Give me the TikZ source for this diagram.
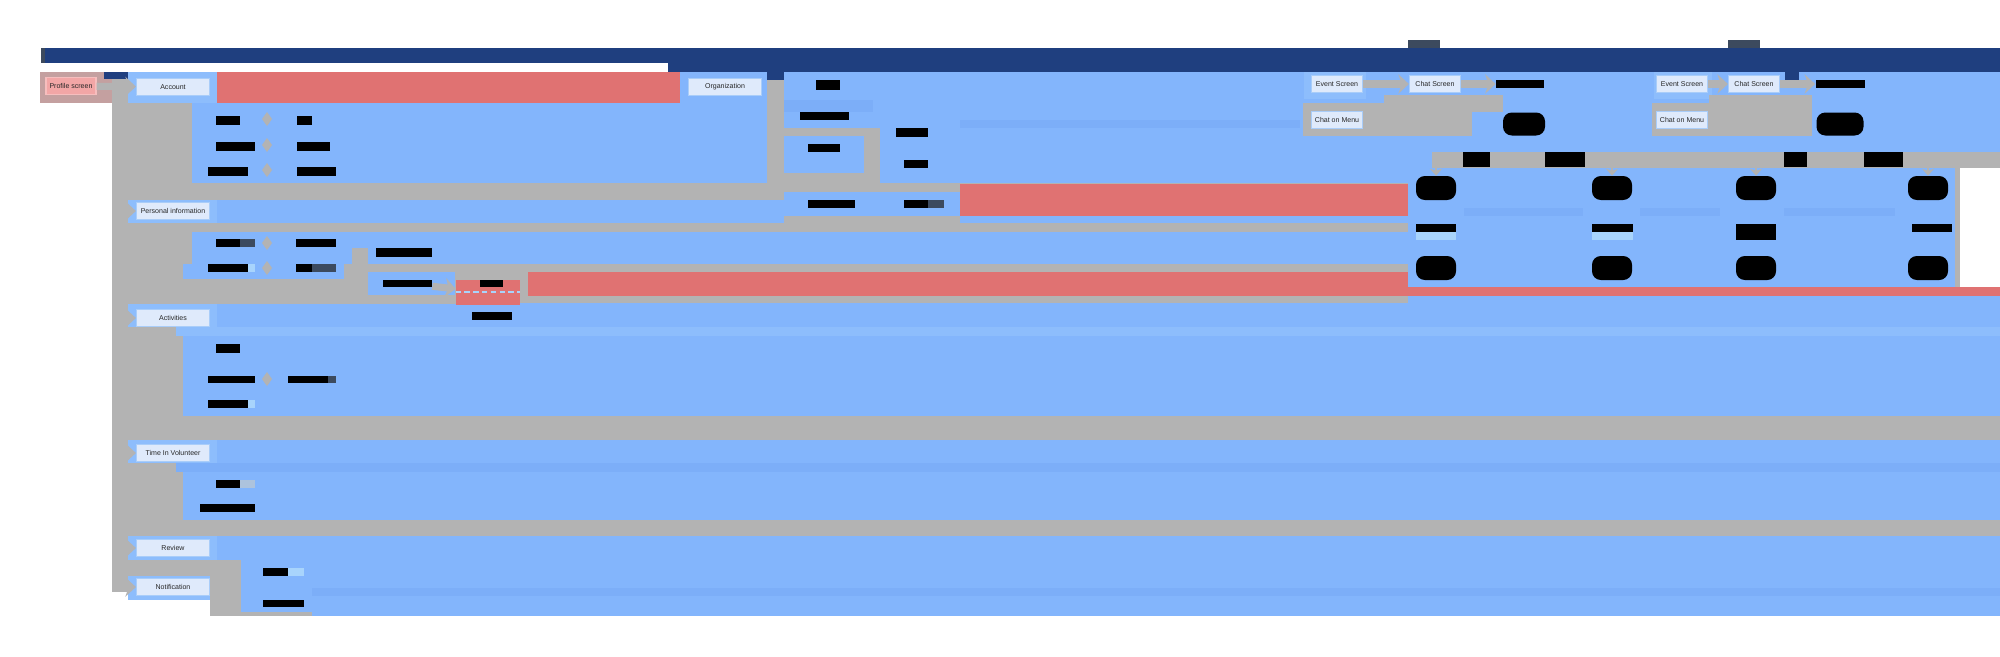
\documentclass[tikz,border=0pt]{standalone}
\usepackage{fontspec}
\setmainfont{Liberation Sans}
\usetikzlibrary{positioning,arrows.meta}

\definecolor{navy}{RGB}{31,63,127}
\definecolor{sky}{RGB}{131,181,252}
\definecolor{skydark}{RGB}{124,174,248}
\definecolor{skylight}{RGB}{141,189,252}
\definecolor{pale}{RGB}{168,212,252}
\definecolor{stone}{RGB}{179,179,179}
\definecolor{rose}{RGB}{224,114,114}
\definecolor{rosegray}{RGB}{196,160,160}
\definecolor{slate}{RGB}{60,74,94}
\definecolor{boxfill}{RGB}{223,234,251}
\definecolor{boxedge}{RGB}{169,205,249}
\definecolor{pinkfill}{RGB}{242,166,166}
\definecolor{pinkedge}{RGB}{246,190,190}

\tikzset{
  screen/.style={draw=boxedge, fill=boxfill, line width=0.7pt,
    minimum width=1.46cm, minimum height=0.34cm, inner sep=0pt,
    text=black!85, font=\fontsize{4}{4.5}\selectfont},
  start/.style={screen, draw=pinkedge, fill=pinkfill, minimum width=1.0cm},
  hidden/.style={fill=black, inner sep=0pt, minimum height=0.16cm},
  conn/.style={draw=stone, line width=4pt, -{Stealth[length=6pt,width=11pt]}},
  drop/.style={draw=stone, line width=1.5pt, -{Stealth[length=4pt,width=7pt]}},
}

\begin{document}
\begin{tikzpicture}[x=0.02cm, y=-0.02cm]
\useasboundingbox (0,0) rectangle (2000,656);

% header band
\fill[navy] (41,48) rectangle (2000,63);
\fill[navy] (668,63) rectangle (2000,72);
\fill[slate] (41,48) rectangle (45,63);
\fill[slate] (1408,40) rectangle (1440,48);
\fill[slate] (1728,40) rectangle (1760,48);

% base layers
\fill[stone] (112,72) rectangle (2000,616);
\fill[rosegray] (40,72) rectangle (112,103);
\fill[navy] (104,72) rectangle (128,79);

% account row
\fill[skylight] (128,72) rectangle (217,103);
\fill[rose] (217,72) rectangle (689,103);
\fill[sky] (680,72) rectangle (767,103);
\fill[sky] (192,103) rectangle (767,183);
\fill[sky] (784,72) rectangle (2000,183);
\fill[navy] (767,72) rectangle (784,80);
\fill[navy] (1785,72) rectangle (1799,80);
\fill[skydark] (784,100) rectangle (873,112);
\fill[skydark] (960,120) rectangle (1300,128);

% organization branch
\fill[stone] (784,128) rectangle (873,136);
\fill[stone] (784,173) rectangle (880,183);
\fill[stone] (864,128) rectangle (880,183);
\fill[sky] (784,192) rectangle (960,216);

% personal information row
\fill[sky] (128,200) rectangle (784,223);
\fill[skylight] (128,200) rectangle (217,223);
\fill[sky] (960,192) rectangle (1408,223);
\fill[rose] (960,184) rectangle (1408,216);
\fill[sky] (192,232) rectangle (2000,264);
\fill[sky] (183,264) rectangle (344,279);
\fill[stone] (352,248) rectangle (368,295);
\fill[sky] (368,272) rectangle (455,295);
\fill[rose] (528,272) rectangle (1408,296);
\fill[sky] (1408,272) rectangle (2000,287);
\fill[rose] (1408,287) rectangle (2000,296);
\fill[sky] (1408,296) rectangle (2000,304);

% activities
\fill[sky] (128,304) rectangle (456,327);
\fill[sky] (520,303) rectangle (2000,327);
\fill[sky] (456,305) rectangle (520,327);
\fill[skylight] (128,304) rectangle (217,327);
\fill[skylight] (176,327) rectangle (2000,336);
\fill[sky] (183,336) rectangle (2000,416);

% time in volunteer
\fill[sky] (128,440) rectangle (2000,463);
\fill[skylight] (128,440) rectangle (217,463);
\fill[skydark] (176,463) rectangle (2000,472);
\fill[sky] (183,472) rectangle (2000,520);

% review and notification
\fill[sky] (128,536) rectangle (2000,560);
\fill[skylight] (128,536) rectangle (217,560);
\fill[sky] (241,560) rectangle (2000,616);
\fill[stone] (240,612) rectangle (312,616);
\fill[skylight] (128,576) rectangle (210,600);
\fill[white] (112,592) rectangle (128,616);
\fill[white] (128,600) rectangle (210,616);
\fill[skydark] (312,588) rectangle (2000,596);

% chat groups
\fill[skylight] (1304,72) rectangle (1366,99);
\fill[stone] (1303,103) rectangle (1472,136);
\fill[stone] (1384,95) rectangle (1503,112);
\fill[skylight] (1654,72) rectangle (1712,99);
\fill[stone] (1652,103) rectangle (1812,136);
\fill[stone] (1709,95) rectangle (1812,112);
\fill[stone] (1432,152) rectangle (2000,168);
\fill[black!55] (1784,168) rectangle (1895,176);
\fill[boxedge!80!stone] (1464,168) rectangle (1584,176);

% message table
\fill[sky] (1408,168) rectangle (1955,287);
\fill[stone] (1955,168) rectangle (1960,287);
\fill[white] (1960,168) rectangle (2000,287);
\fill[skydark] (1464,208) rectangle (1583,216);
\fill[skydark] (1640,208) rectangle (1720,216);
\fill[skydark] (1784,208) rectangle (1895,216);

% screens
\node[start] (profile) at (71,86) {Profile screen};
\node[screen] (account) at (173,87) {Account};
\node[screen] (org) at (725,87) {Organization};
\node[screen] (personal) at (173,211) {Personal information};
\node[screen] (activities) at (173,318) {Activities};
\node[screen] (volunteer) at (173,453) {Time In Volunteer};
\node[screen] (review) at (173,548) {Review};
\node[screen] (notify) at (173,587) {Notification};

\node[screen, minimum width=1.02cm] (event) at (1337,84) {Event Screen};
\node[screen, minimum width=1.02cm] (chat) at (1435,84) {Chat Screen};
\node[screen, minimum width=1.02cm] (menu) at (1337,120) {Chat on Menu};
\node[screen, minimum width=1.02cm] (event2) at (1682,84) {Event Screen};
\node[screen, minimum width=1.02cm] (chat2) at (1754,84) {Chat Screen};
\node[screen, minimum width=1.02cm] (menu2) at (1682,120) {Chat on Menu};

\node[hidden, minimum width=0.96cm] (msg) at (1520,84) {};
\node[hidden, minimum width=0.98cm] (msg2) at (1840,84) {};
\node[hidden, minimum width=0.84cm, minimum height=0.46cm, rounded corners=5pt] (blob) at (1524,124) {};
\node[hidden, minimum width=0.94cm, minimum height=0.46cm, rounded corners=5pt] (blob2) at (1840,124) {};

% table cells
\foreach \cx/\nm in {1436/ca, 1612/cb, 1756/cc, 1928/cd} {
  \node[hidden, minimum width=0.8cm, minimum height=0.48cm, rounded corners=5pt] (\nm) at (\cx,188) {};
  \fill[black, rounded corners=5pt] (\cx-20,256) rectangle (\cx+20,280);
}
\fill[black] (1416,224) rectangle (1456,232); \fill[pale] (1416,232) rectangle (1456,240);
\fill[black] (1592,224) rectangle (1633,232); \fill[pale] (1592,232) rectangle (1633,240);
\fill[black] (1736,224) rectangle (1776,240);
\fill[black] (1912,224) rectangle (1952,232);
\foreach \cx/\nm in {1436/ca, 1612/cb, 1756/cc, 1928/cd}
  \draw[drop] (\cx,160) -- (\nm);

% band labels
\fill[black] (1463,152) rectangle (1490,167);
\fill[black] (1545,152) rectangle (1585,167);
\fill[black] (1784,152) rectangle (1807,167);
\fill[black] (1864,152) rectangle (1903,167);

% account items
\foreach \yy/\xa/\xb/\xc/\xd in {112/216/240/297/312, 138/216/255/297/330, 163/208/248/297/336} {
  \fill[black] (\xa,\yy+4) rectangle (\xb,\yy+13);
  \fill[black] (\xc,\yy+4) rectangle (\xd,\yy+13);
  \fill[stone] (267,\yy) -- (272,\yy+7) -- (267,\yy+14) -- (262,\yy+7) -- cycle;
}

% organization items
\fill[black] (816,80) rectangle (840,90);
\fill[black] (800,112) rectangle (849,120);
\fill[black] (808,144) rectangle (840,152);
\fill[black] (896,128) rectangle (928,137);
\fill[black] (904,160) rectangle (928,168);
\fill[black] (808,200) rectangle (855,208);
\fill[black] (904,200) rectangle (928,208);
\fill[slate] (928,200) rectangle (944,208);

% personal information items
\fill[black] (216,239) rectangle (240,247); \fill[slate] (240,239) rectangle (255,247);
\fill[black] (296,239) rectangle (336,247);
\fill[black] (208,264) rectangle (248,272); \fill[pale] (248,264) rectangle (255,272);
\fill[black] (296,264) rectangle (312,272); \fill[slate] (312,264) rectangle (336,272);
\fill[stone] (267,236) -- (272,243) -- (267,250) -- (262,243) -- cycle;
\fill[stone] (267,261) -- (272,268) -- (267,275) -- (262,268) -- cycle;
\fill[black] (376,248) rectangle (432,257);
\node[hidden, minimum width=0.98cm, minimum height=0.14cm] (pitem) at (407.5,283.5) {};
\node[fill=rose, inner sep=0pt, minimum width=1.28cm, minimum height=0.5cm] (pedit) at (488,292.5) {};
\draw[pale, densely dashed, line width=0.6pt] (pedit.west |- 0,292) -- (pedit.east |- 0,292);
\fill[black] (480,280) rectangle (503,287);
\fill[black] (472,312) rectangle (512,320);

% activities items
\fill[black] (216,344) rectangle (240,353);
\fill[black] (208,376) rectangle (255,383);
\fill[black] (288,376) rectangle (328,383); \fill[slate] (328,376) rectangle (336,383);
\fill[stone] (267,372) -- (272,379) -- (267,386) -- (262,379) -- cycle;
\fill[black] (208,400) rectangle (248,408); \fill[pale] (248,400) rectangle (255,408);

% time in volunteer items
\fill[black] (216,480) rectangle (240,488); \fill[boxedge!60!stone] (240,480) rectangle (255,488);
\fill[black] (200,504) rectangle (255,512);

% notification items
\fill[black] (263,568) rectangle (288,576); \fill[pale] (288,568) rectangle (304,576);
\fill[black] (263,600) rectangle (304,607);

% connectors
\draw[conn] (profile) -- (account);
\draw[conn] (event) -- (chat);
\draw[conn] (chat) -- (msg);
\draw[conn] (event2) -- (chat2);
\draw[conn] (chat2) -- (msg2);
\foreach \nm in {personal, activities, volunteer, review, notify}
  \draw[conn] (112,0 |- \nm) -- (\nm);
\draw[conn] (pitem) -- (pedit);
\end{tikzpicture}
\end{document}
